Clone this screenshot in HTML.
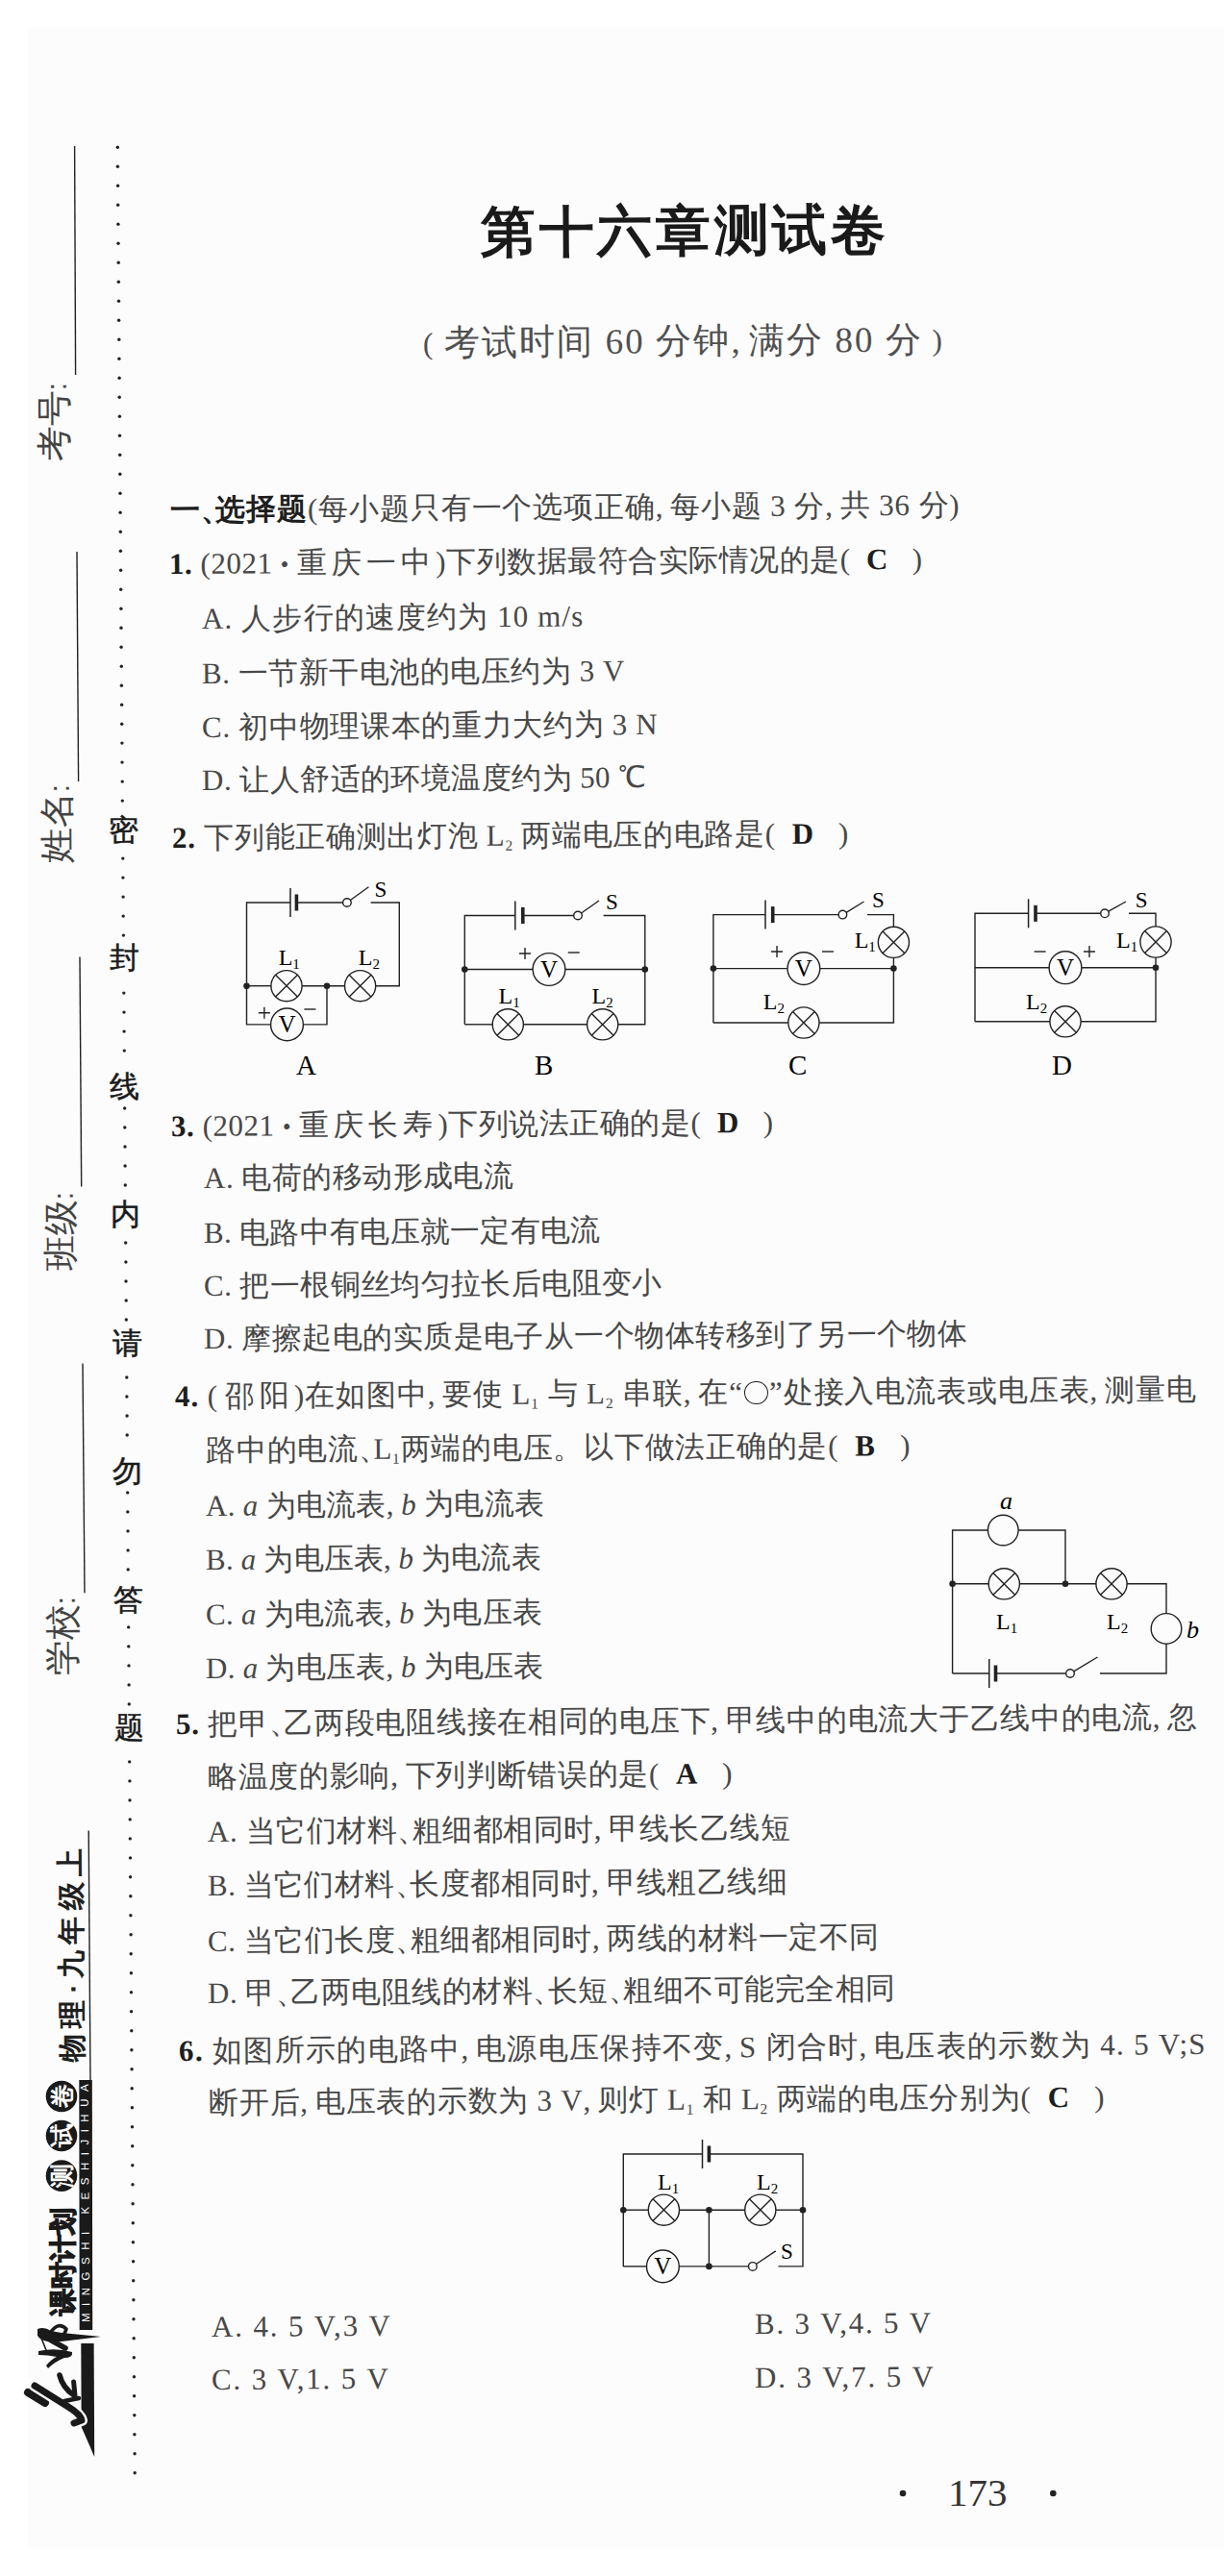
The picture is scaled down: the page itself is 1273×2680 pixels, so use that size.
<!DOCTYPE html><html><head><meta charset="utf-8"><style>
html,body{margin:0;padding:0}
body{width:1273px;height:2680px;position:relative;overflow:hidden;background:#fff;font-family:"Liberation Serif",serif;color:#1e1e1e}
.pg{position:absolute;left:29px;top:28px;width:1244px;height:2624px;background:#fcfcfc}
.t{position:absolute;white-space:nowrap;line-height:1;transform-origin:0 50%;transform:rotate(-0.38deg);color:#484848}
#title{color:#1a1a1a}
#sub{color:#505050}
b{color:#1e1e1e}
.h{display:inline-block;width:.5em}
.sb{font-size:.5em;position:relative;top:.3em}
b{font-weight:700}
i{font-style:italic}
svg{position:absolute;left:0;top:0}
.rt{position:absolute;text-align:center;white-space:nowrap;transform:rotate(-90.4deg)}
.kai{letter-spacing:5px}
.pp{font-size:.85em;position:relative;top:-.03em}
.bu{font-size:.8em;position:relative;top:-.05em}
.ci{display:inline-block;width:.78em;height:.78em;border:1.6px solid #1e1e1e;border-radius:50%;box-sizing:border-box;vertical-align:-.08em;margin:0 .05em}
.seal{position:absolute;width:32px;height:32px;line-height:32px;text-align:center;font-size:31px;font-family:"Liberation Sans",sans-serif;font-weight:400;-webkit-text-stroke:0.5px #1a1a1a;color:#1a1a1a}
.fld{color:#444;position:absolute;width:120px;height:40px;line-height:40px;text-align:center;font-size:37px;transform:rotate(-90.4deg);font-family:'Liberation Sans',sans-serif}
.co{display:inline-block;width:.3em;text-align:left;font-size:.8em}
.pn{position:absolute;left:986px;top:2573px;font-size:41px;line-height:41px;font-weight:400;color:#333}

</style></head><body><div class="pg"></div>
<svg width="1273" height="2680" viewBox="0 0 1273 2680"><path d="M302.0 924.0V954.0" stroke="#222" stroke-width="1.5"/>
<path d="M308.4 930.5V947.5" stroke="#222" stroke-width="3.6"/>
<polyline points="256.5,1025.7 256.5,939.0 302.0,939.0" fill="none" stroke="#222" stroke-width="1.4"/>
<polyline points="308.4,939.0 356.6,939.0" fill="none" stroke="#222" stroke-width="1.4"/>
<circle cx="360.9" cy="939.0" r="4.3" fill="none" stroke="#222" stroke-width="1.4"/>
<path d="M364.4 936.5L383.4 922.8" stroke="#222" stroke-width="1.4"/>
<polyline points="385.6,939.0 415.3,939.0 415.3,1025.7 390.0,1025.7" fill="none" stroke="#222" stroke-width="1.4"/>
<polyline points="256.5,1025.7 282.6,1025.7" fill="none" stroke="#222" stroke-width="1.4"/>
<polyline points="313.4,1025.7 359.2,1025.7" fill="none" stroke="#222" stroke-width="1.4"/>
<circle cx="256.5" cy="1025.7" r="3.3" fill="#222"/>
<circle cx="340.0" cy="1025.7" r="3.3" fill="#222"/>
<polyline points="256.5,1025.7 256.5,1065.9 283.1,1065.9" fill="none" stroke="#222" stroke-width="1.4"/>
<polyline points="313.9,1065.9 340.0,1065.9 340.0,1025.7" fill="none" stroke="#222" stroke-width="1.4"/>
<path d="M268.9 1053.7H280.9M274.9 1047.7V1059.7" stroke="#222" stroke-width="1.4"/>
<path d="M316.4 1050.0H328.4" stroke="#222" stroke-width="1.4"/>
<text x="289.7" y="1003.7" font-size="24" font-family="Liberation Serif">L<tspan font-size="15" dy="4">1</tspan></text>
<text x="372.8" y="1003.7" font-size="24" font-family="Liberation Serif">L<tspan font-size="15" dy="4">2</tspan></text>
<text x="389.5" y="932.6" font-size="23" font-family="Liberation Serif" >S</text>
<text x="308.0" y="1118.0" font-size="29" font-family="Liberation Serif" >A</text>
<path d="M535.8 937.5V967.5" stroke="#222" stroke-width="1.5"/>
<path d="M543.8 944.0V961.0" stroke="#222" stroke-width="3.6"/>
<polyline points="483.3,1065.8 483.3,952.5 535.8,952.5" fill="none" stroke="#222" stroke-width="1.4"/>
<polyline points="543.8,952.5 596.7,952.5" fill="none" stroke="#222" stroke-width="1.4"/>
<circle cx="601.0" cy="952.5" r="4.3" fill="none" stroke="#222" stroke-width="1.4"/>
<path d="M604.5 950.0L623.0 937.0" stroke="#222" stroke-width="1.4"/>
<polyline points="627.6,952.5 670.8,952.5 670.8,1065.8 642.1,1065.8" fill="none" stroke="#222" stroke-width="1.4"/>
<polyline points="483.3,1008.5 555.6,1008.5" fill="none" stroke="#222" stroke-width="1.4"/>
<polyline points="586.4,1008.5 670.8,1008.5" fill="none" stroke="#222" stroke-width="1.4"/>
<circle cx="483.3" cy="1008.5" r="3.3" fill="#222"/>
<circle cx="670.8" cy="1008.5" r="3.3" fill="#222"/>
<polyline points="483.3,1065.8 512.9,1065.8" fill="none" stroke="#222" stroke-width="1.4"/>
<polyline points="543.7,1065.8 611.3,1065.8" fill="none" stroke="#222" stroke-width="1.4"/>
<path d="M540.0 992.0H552.0M546.0 986.0V998.0" stroke="#222" stroke-width="1.4"/>
<path d="M590.7 991.0H602.7" stroke="#222" stroke-width="1.4"/>
<text x="518.5" y="1044.0" font-size="24" font-family="Liberation Serif">L<tspan font-size="15" dy="4">1</tspan></text>
<text x="615.5" y="1044.0" font-size="24" font-family="Liberation Serif">L<tspan font-size="15" dy="4">2</tspan></text>
<text x="630.0" y="946.0" font-size="23" font-family="Liberation Serif" >S</text>
<text x="556.0" y="1118.0" font-size="29" font-family="Liberation Serif" >B</text>
<path d="M796.0 936.6V966.6" stroke="#222" stroke-width="1.5"/>
<path d="M803.7 943.1V960.1" stroke="#222" stroke-width="3.6"/>
<polyline points="741.9,1064.0 741.9,951.6 796.0,951.6" fill="none" stroke="#222" stroke-width="1.4"/>
<polyline points="803.7,951.6 872.1,951.6" fill="none" stroke="#222" stroke-width="1.4"/>
<circle cx="876.4" cy="951.6" r="4.3" fill="none" stroke="#222" stroke-width="1.4"/>
<path d="M880.1 949.3L898.5 938.0" stroke="#222" stroke-width="1.4"/>
<polyline points="902.0,951.6 929.4,951.6 929.4,964.9" fill="none" stroke="#222" stroke-width="1.4"/>
<polyline points="929.4,995.7 929.4,1064.0 851.3,1064.0" fill="none" stroke="#222" stroke-width="1.4"/>
<polyline points="741.9,1007.6 820.5,1007.6" fill="none" stroke="#222" stroke-width="1.4"/>
<polyline points="851.3,1007.6 929.4,1007.6" fill="none" stroke="#222" stroke-width="1.4"/>
<circle cx="741.9" cy="1007.6" r="3.3" fill="#222"/>
<circle cx="929.4" cy="1007.6" r="3.3" fill="#222"/>
<polyline points="741.9,1064.0 820.5,1064.0" fill="none" stroke="#222" stroke-width="1.4"/>
<path d="M802.0 990.0H814.0M808.0 984.0V996.0" stroke="#222" stroke-width="1.4"/>
<path d="M855.0 990.0H867.0" stroke="#222" stroke-width="1.4"/>
<text x="888.7" y="986.0" font-size="24" font-family="Liberation Serif">L<tspan font-size="15" dy="4">1</tspan></text>
<text x="793.8" y="1050.0" font-size="24" font-family="Liberation Serif">L<tspan font-size="15" dy="4">2</tspan></text>
<text x="907.0" y="943.6" font-size="23" font-family="Liberation Serif" >S</text>
<text x="820.0" y="1118.0" font-size="29" font-family="Liberation Serif" >C</text>
<path d="M1069.6 935.3V965.3" stroke="#222" stroke-width="1.5"/>
<path d="M1077.0 941.8V958.8" stroke="#222" stroke-width="3.6"/>
<polyline points="1014.0,1062.8 1014.0,950.3 1069.6,950.3" fill="none" stroke="#222" stroke-width="1.4"/>
<polyline points="1077.0,950.3 1144.7,950.3" fill="none" stroke="#222" stroke-width="1.4"/>
<circle cx="1149.0" cy="950.3" r="4.3" fill="none" stroke="#222" stroke-width="1.4"/>
<path d="M1152.8 948.2L1171.0 938.0" stroke="#222" stroke-width="1.4"/>
<polyline points="1174.0,950.3 1202.0,950.3 1202.0,964.6" fill="none" stroke="#222" stroke-width="1.4"/>
<polyline points="1202.0,995.4 1202.0,1062.8 1123.4,1062.8" fill="none" stroke="#222" stroke-width="1.4"/>
<polyline points="1014.0,1006.7 1092.6,1006.7" fill="none" stroke="#222" stroke-width="1.4"/>
<polyline points="1123.4,1006.7 1202.0,1006.7" fill="none" stroke="#222" stroke-width="1.4"/>
<circle cx="1202.0" cy="1006.7" r="3.3" fill="#222"/>
<polyline points="1014.0,1062.8 1092.6,1062.8" fill="none" stroke="#222" stroke-width="1.4"/>
<path d="M1075.6 990.0H1087.6" stroke="#222" stroke-width="1.4"/>
<path d="M1127.0 990.0H1139.0M1133.0 984.0V996.0" stroke="#222" stroke-width="1.4"/>
<text x="1161.0" y="986.0" font-size="24" font-family="Liberation Serif">L<tspan font-size="15" dy="4">1</tspan></text>
<text x="1067.0" y="1050.0" font-size="24" font-family="Liberation Serif">L<tspan font-size="15" dy="4">2</tspan></text>
<text x="1180.8" y="944.0" font-size="23" font-family="Liberation Serif" >S</text>
<text x="1094.0" y="1118.0" font-size="29" font-family="Liberation Serif" >D</text>
<polyline points="990.6,1741.0 990.6,1592.0 1027.9,1592.0" fill="none" stroke="#222" stroke-width="1.4"/>
<polyline points="1058.7,1592.0 1108.0,1592.0 1108.0,1647.8" fill="none" stroke="#222" stroke-width="1.4"/>
<polyline points="990.6,1647.8 1028.9,1647.8" fill="none" stroke="#222" stroke-width="1.4"/>
<polyline points="1059.7,1647.8 1140.6,1647.8" fill="none" stroke="#222" stroke-width="1.4"/>
<circle cx="990.6" cy="1647.8" r="3.3" fill="#222"/>
<circle cx="1108.0" cy="1647.8" r="3.3" fill="#222"/>
<polyline points="1171.4,1647.8 1213.0,1647.8 1213.0,1679.0" fill="none" stroke="#222" stroke-width="1.4"/>
<polyline points="1213.0,1709.8 1213.0,1741.0 1144.0,1741.0" fill="none" stroke="#222" stroke-width="1.4"/>
<polyline points="990.6,1741.0 1028.8,1741.0" fill="none" stroke="#222" stroke-width="1.4"/>
<path d="M1028.8 1726.0V1756.0" stroke="#222" stroke-width="1.5"/>
<path d="M1035.5 1732.5V1749.5" stroke="#222" stroke-width="3.6"/>
<polyline points="1035.5,1741.0 1108.7,1741.0" fill="none" stroke="#222" stroke-width="1.4"/>
<circle cx="1113.0" cy="1741.0" r="4.3" fill="none" stroke="#222" stroke-width="1.4"/>
<path d="M1116.7 1738.8L1141.5 1724.0" stroke="#222" stroke-width="1.4"/>
<text x="1040.0" y="1570.0" font-size="26" font-family="Liberation Serif" font-style="italic">a</text>
<text x="1036.0" y="1695.0" font-size="24" font-family="Liberation Serif">L<tspan font-size="15" dy="4">1</tspan></text>
<text x="1151.0" y="1695.0" font-size="24" font-family="Liberation Serif">L<tspan font-size="15" dy="4">2</tspan></text>
<text x="1234.0" y="1704.0" font-size="26" font-family="Liberation Serif" font-style="italic">b</text>
<polyline points="648.3,2357.9 648.3,2241.0 730.5,2241.0" fill="none" stroke="#222" stroke-width="1.4"/>
<path d="M730.5 2226.0V2256.0" stroke="#222" stroke-width="1.5"/>
<path d="M737.4 2232.5V2249.5" stroke="#222" stroke-width="3.6"/>
<polyline points="737.4,2241.0 835.0,2241.0 835.0,2357.9 809.4,2357.9" fill="none" stroke="#222" stroke-width="1.4"/>
<polyline points="648.3,2299.2 675.0,2299.2" fill="none" stroke="#222" stroke-width="1.4"/>
<polyline points="705.8,2299.2 775.4,2299.2" fill="none" stroke="#222" stroke-width="1.4"/>
<polyline points="806.2,2299.2 835.0,2299.2" fill="none" stroke="#222" stroke-width="1.4"/>
<circle cx="648.3" cy="2299.2" r="3.3" fill="#222"/>
<circle cx="737.4" cy="2299.2" r="3.3" fill="#222"/>
<circle cx="835.0" cy="2299.2" r="3.3" fill="#222"/>
<polyline points="737.4,2299.2 737.4,2357.9" fill="none" stroke="#222" stroke-width="1.4"/>
<polyline points="648.3,2357.9 674.0,2357.9" fill="none" stroke="#222" stroke-width="1.4"/>
<polyline points="704.8,2357.9 778.5,2357.9" fill="none" stroke="#222" stroke-width="1.4"/>
<circle cx="737.4" cy="2357.9" r="3.3" fill="#222"/>
<circle cx="782.8" cy="2357.9" r="4.3" fill="none" stroke="#222" stroke-width="1.4"/>
<path d="M786.4 2355.5L806.8 2341.9" stroke="#222" stroke-width="1.4"/>
<text x="684.0" y="2278.0" font-size="24" font-family="Liberation Serif">L<tspan font-size="15" dy="4">1</tspan></text>
<text x="787.0" y="2278.0" font-size="24" font-family="Liberation Serif">L<tspan font-size="15" dy="4">2</tspan></text>
<text x="812.0" y="2350.0" font-size="23" font-family="Liberation Serif" >S</text>
<polyline points="77.6,152.0 78.6,390.0" fill="none" stroke="#222" stroke-width="1.4"/>
<polyline points="80.0,574.0 81.6,813.0" fill="none" stroke="#222" stroke-width="1.4"/>
<polyline points="83.0,995.6 84.7,1234.5" fill="none" stroke="#222" stroke-width="1.4"/>
<polyline points="86.0,1418.4 88.0,1657.3" fill="none" stroke="#222" stroke-width="1.4"/>
<circle cx="122.3" cy="153.3" r="1.7" fill="#222"/>
<circle cx="122.4" cy="173.3" r="1.7" fill="#222"/>
<circle cx="122.6" cy="193.3" r="1.7" fill="#222"/>
<circle cx="122.7" cy="213.3" r="1.7" fill="#222"/>
<circle cx="122.9" cy="233.3" r="1.7" fill="#222"/>
<circle cx="123.0" cy="253.3" r="1.7" fill="#222"/>
<circle cx="123.2" cy="273.3" r="1.7" fill="#222"/>
<circle cx="123.3" cy="293.3" r="1.7" fill="#222"/>
<circle cx="123.5" cy="313.3" r="1.7" fill="#222"/>
<circle cx="123.6" cy="333.3" r="1.7" fill="#222"/>
<circle cx="123.8" cy="353.3" r="1.7" fill="#222"/>
<circle cx="123.9" cy="373.2" r="1.7" fill="#222"/>
<circle cx="124.1" cy="393.2" r="1.7" fill="#222"/>
<circle cx="124.2" cy="413.2" r="1.7" fill="#222"/>
<circle cx="124.4" cy="433.2" r="1.7" fill="#222"/>
<circle cx="124.5" cy="453.2" r="1.7" fill="#222"/>
<circle cx="124.7" cy="473.2" r="1.7" fill="#222"/>
<circle cx="124.8" cy="493.2" r="1.7" fill="#222"/>
<circle cx="125.0" cy="513.2" r="1.7" fill="#222"/>
<circle cx="125.1" cy="533.2" r="1.7" fill="#222"/>
<circle cx="125.3" cy="553.2" r="1.7" fill="#222"/>
<circle cx="125.4" cy="573.2" r="1.7" fill="#222"/>
<circle cx="125.6" cy="593.2" r="1.7" fill="#222"/>
<circle cx="125.7" cy="613.2" r="1.7" fill="#222"/>
<circle cx="125.9" cy="633.2" r="1.7" fill="#222"/>
<circle cx="126.0" cy="653.2" r="1.7" fill="#222"/>
<circle cx="126.1" cy="673.2" r="1.7" fill="#222"/>
<circle cx="126.3" cy="693.2" r="1.7" fill="#222"/>
<circle cx="126.4" cy="713.2" r="1.7" fill="#222"/>
<circle cx="126.6" cy="733.2" r="1.7" fill="#222"/>
<circle cx="126.7" cy="753.2" r="1.7" fill="#222"/>
<circle cx="126.9" cy="773.1" r="1.7" fill="#222"/>
<circle cx="127.0" cy="793.1" r="1.7" fill="#222"/>
<circle cx="127.2" cy="813.1" r="1.7" fill="#222"/>
<circle cx="127.3" cy="833.1" r="1.7" fill="#222"/>
<circle cx="127.8" cy="893.1" r="1.7" fill="#222"/>
<circle cx="127.9" cy="913.1" r="1.7" fill="#222"/>
<circle cx="128.1" cy="933.1" r="1.7" fill="#222"/>
<circle cx="128.2" cy="953.1" r="1.7" fill="#222"/>
<circle cx="128.4" cy="973.1" r="1.7" fill="#222"/>
<circle cx="128.8" cy="1033.1" r="1.7" fill="#222"/>
<circle cx="129.0" cy="1053.1" r="1.7" fill="#222"/>
<circle cx="129.1" cy="1073.1" r="1.7" fill="#222"/>
<circle cx="129.3" cy="1093.1" r="1.7" fill="#222"/>
<circle cx="129.7" cy="1153.0" r="1.7" fill="#222"/>
<circle cx="129.8" cy="1173.0" r="1.7" fill="#222"/>
<circle cx="130.0" cy="1193.0" r="1.7" fill="#222"/>
<circle cx="130.1" cy="1213.0" r="1.7" fill="#222"/>
<circle cx="130.3" cy="1233.0" r="1.7" fill="#222"/>
<circle cx="130.7" cy="1293.0" r="1.7" fill="#222"/>
<circle cx="130.9" cy="1313.0" r="1.7" fill="#222"/>
<circle cx="131.0" cy="1333.0" r="1.7" fill="#222"/>
<circle cx="131.2" cy="1353.0" r="1.7" fill="#222"/>
<circle cx="131.3" cy="1373.0" r="1.7" fill="#222"/>
<circle cx="131.8" cy="1433.0" r="1.7" fill="#222"/>
<circle cx="131.9" cy="1453.0" r="1.7" fill="#222"/>
<circle cx="132.1" cy="1473.0" r="1.7" fill="#222"/>
<circle cx="132.2" cy="1493.0" r="1.7" fill="#222"/>
<circle cx="132.7" cy="1552.9" r="1.7" fill="#222"/>
<circle cx="132.8" cy="1572.9" r="1.7" fill="#222"/>
<circle cx="133.0" cy="1592.9" r="1.7" fill="#222"/>
<circle cx="133.1" cy="1612.9" r="1.7" fill="#222"/>
<circle cx="133.2" cy="1632.9" r="1.7" fill="#222"/>
<circle cx="133.7" cy="1692.9" r="1.7" fill="#222"/>
<circle cx="133.8" cy="1712.9" r="1.7" fill="#222"/>
<circle cx="134.0" cy="1732.9" r="1.7" fill="#222"/>
<circle cx="134.1" cy="1752.9" r="1.7" fill="#222"/>
<circle cx="134.3" cy="1772.9" r="1.7" fill="#222"/>
<circle cx="134.7" cy="1832.9" r="1.7" fill="#222"/>
<circle cx="134.9" cy="1852.9" r="1.7" fill="#222"/>
<circle cx="135.0" cy="1872.9" r="1.7" fill="#222"/>
<circle cx="135.2" cy="1892.9" r="1.7" fill="#222"/>
<circle cx="135.3" cy="1912.9" r="1.7" fill="#222"/>
<circle cx="135.5" cy="1932.9" r="1.7" fill="#222"/>
<circle cx="135.6" cy="1952.8" r="1.7" fill="#222"/>
<circle cx="135.8" cy="1972.8" r="1.7" fill="#222"/>
<circle cx="135.9" cy="1992.8" r="1.7" fill="#222"/>
<circle cx="136.1" cy="2012.8" r="1.7" fill="#222"/>
<circle cx="136.2" cy="2032.8" r="1.7" fill="#222"/>
<circle cx="136.4" cy="2052.8" r="1.7" fill="#222"/>
<circle cx="136.5" cy="2072.8" r="1.7" fill="#222"/>
<circle cx="136.6" cy="2092.8" r="1.7" fill="#222"/>
<circle cx="136.8" cy="2112.8" r="1.7" fill="#222"/>
<circle cx="136.9" cy="2132.8" r="1.7" fill="#222"/>
<circle cx="137.1" cy="2152.8" r="1.7" fill="#222"/>
<circle cx="137.2" cy="2172.8" r="1.7" fill="#222"/>
<circle cx="137.4" cy="2192.8" r="1.7" fill="#222"/>
<circle cx="137.5" cy="2212.8" r="1.7" fill="#222"/>
<circle cx="137.7" cy="2232.8" r="1.7" fill="#222"/>
<circle cx="137.8" cy="2252.8" r="1.7" fill="#222"/>
<circle cx="138.0" cy="2272.8" r="1.7" fill="#222"/>
<circle cx="138.1" cy="2292.8" r="1.7" fill="#222"/>
<circle cx="138.3" cy="2312.8" r="1.7" fill="#222"/>
<circle cx="138.4" cy="2332.8" r="1.7" fill="#222"/>
<circle cx="138.6" cy="2352.7" r="1.7" fill="#222"/>
<circle cx="138.7" cy="2372.7" r="1.7" fill="#222"/>
<circle cx="138.9" cy="2392.7" r="1.7" fill="#222"/>
<circle cx="139.0" cy="2412.7" r="1.7" fill="#222"/>
<circle cx="139.2" cy="2432.7" r="1.7" fill="#222"/>
<circle cx="139.3" cy="2452.7" r="1.7" fill="#222"/>
<circle cx="139.5" cy="2472.7" r="1.7" fill="#222"/>
<circle cx="139.6" cy="2492.7" r="1.7" fill="#222"/>
<circle cx="139.8" cy="2512.7" r="1.7" fill="#222"/>
<circle cx="139.9" cy="2532.7" r="1.7" fill="#222"/>
<circle cx="140.1" cy="2552.7" r="1.7" fill="#222"/>
<circle cx="140.2" cy="2572.7" r="1.7" fill="#222"/>
<circle cx="939.0" cy="2594.0" r="3.3" fill="#222"/>
<circle cx="1095.3" cy="2594.0" r="3.3" fill="#222"/>
<polyline points="92.2,1904.4 94.0,2164.0" fill="none" stroke="#222" stroke-width="1.4"/>
<path d="M82.3 2164H95.8L96.2 2424H82.7Z" fill="#1a1a1a"/>
<path d="M84.3 2438H97.6L98.2 2556L84.7 2525Z" fill="#1a1a1a"/>
<circle cx="64" cy="2181.0" r="16.3" fill="#1a1a1a"/>
<circle cx="64" cy="2222.0" r="16.3" fill="#1a1a1a"/>
<circle cx="64" cy="2263.6" r="16.3" fill="#1a1a1a"/>
<path d="M39 2423 Q46 2420 53 2425 L64 2427 L105 2431 L64 2436 L50 2436 Q42 2435 39 2430Z" fill="#1a1a1a"/>
<path d="M53 2426 Q61 2415 69 2423 Q66 2434 56 2432" fill="none" stroke="#1a1a1a" stroke-width="3.6" stroke-linecap="round" stroke-linejoin="round"/>
<path d="M42 2428 Q55 2436 68 2443" fill="none" stroke="#1a1a1a" stroke-width="5.6" stroke-linecap="round" stroke-linejoin="round"/>
<path d="M42.8 2432 L48 2445" fill="none" stroke="#1a1a1a" stroke-width="1.6" stroke-linecap="round" stroke-linejoin="round"/>
<path d="M40 2446 Q58 2442 75 2447 Q76 2453 67 2453 Q57 2457 50 2464 L48 2461 Q54 2454 59 2452 Q50 2450 40 2450Z" fill="#1a1a1a"/>
<path d="M29 2489 L47 2500" fill="none" stroke="#fcfcfc" stroke-width="13.0" stroke-linecap="round" stroke-linejoin="round"/>
<path d="M29 2489 L47 2500" fill="none" stroke="#1a1a1a" stroke-width="8.0" stroke-linecap="round" stroke-linejoin="round"/>
<path d="M36 2482 Q55 2494 71 2504 Q84 2512 85 2518 L77 2521" fill="none" stroke="#fcfcfc" stroke-width="12.0" stroke-linecap="round" stroke-linejoin="round"/>
<path d="M36 2482 Q55 2494 71 2504 Q84 2512 85 2518 L77 2521" fill="none" stroke="#1a1a1a" stroke-width="7.0" stroke-linecap="round" stroke-linejoin="round"/>
<path d="M62 2471 Q65 2484 77 2492" fill="none" stroke="#1a1a1a" stroke-width="5.6" stroke-linecap="round" stroke-linejoin="round"/>
<path d="M76.6 2478 L78 2492" fill="none" stroke="#1a1a1a" stroke-width="5.0" stroke-linecap="round" stroke-linejoin="round"/>
<path d="M67 2498 L82 2495" fill="none" stroke="#1a1a1a" stroke-width="4.6" stroke-linecap="round" stroke-linejoin="round"/>
<circle cx="298.0" cy="1025.7" r="16.1" fill="#fcfcfc" stroke="#222" stroke-width="1.4"/>
<path d="M286.6 1014.3L309.4 1037.1M286.6 1037.1L309.4 1014.3" stroke="#222" stroke-width="1.4"/>
<circle cx="374.6" cy="1025.7" r="16.1" fill="#fcfcfc" stroke="#222" stroke-width="1.4"/>
<path d="M363.2 1014.3L386.0 1037.1M363.2 1037.1L386.0 1014.3" stroke="#222" stroke-width="1.4"/>
<circle cx="298.5" cy="1065.9" r="16.9" fill="#fcfcfc" stroke="#222" stroke-width="1.4"/>
<text x="298.5" y="1074.4" font-size="25" text-anchor="middle" font-family="Liberation Serif">V</text>
<circle cx="571.0" cy="1008.5" r="16.9" fill="#fcfcfc" stroke="#222" stroke-width="1.4"/>
<text x="571.0" y="1017.0" font-size="25" text-anchor="middle" font-family="Liberation Serif">V</text>
<circle cx="528.3" cy="1065.8" r="16.1" fill="#fcfcfc" stroke="#222" stroke-width="1.4"/>
<path d="M516.9 1054.4L539.7 1077.2M516.9 1077.2L539.7 1054.4" stroke="#222" stroke-width="1.4"/>
<circle cx="626.7" cy="1065.8" r="16.1" fill="#fcfcfc" stroke="#222" stroke-width="1.4"/>
<path d="M615.3 1054.4L638.1 1077.2M615.3 1077.2L638.1 1054.4" stroke="#222" stroke-width="1.4"/>
<circle cx="929.4" cy="980.3" r="16.1" fill="#fcfcfc" stroke="#222" stroke-width="1.4"/>
<path d="M918.0 968.9L940.8 991.7M918.0 991.7L940.8 968.9" stroke="#222" stroke-width="1.4"/>
<circle cx="835.9" cy="1007.6" r="16.9" fill="#fcfcfc" stroke="#222" stroke-width="1.4"/>
<text x="835.9" y="1016.1" font-size="25" text-anchor="middle" font-family="Liberation Serif">V</text>
<circle cx="835.9" cy="1064.0" r="16.1" fill="#fcfcfc" stroke="#222" stroke-width="1.4"/>
<path d="M824.5 1052.6L847.3 1075.4M824.5 1075.4L847.3 1052.6" stroke="#222" stroke-width="1.4"/>
<circle cx="1202.0" cy="980.0" r="16.1" fill="#fcfcfc" stroke="#222" stroke-width="1.4"/>
<path d="M1190.6 968.6L1213.4 991.4M1190.6 991.4L1213.4 968.6" stroke="#222" stroke-width="1.4"/>
<circle cx="1108.0" cy="1006.7" r="16.9" fill="#fcfcfc" stroke="#222" stroke-width="1.4"/>
<text x="1108.0" y="1015.2" font-size="25" text-anchor="middle" font-family="Liberation Serif">V</text>
<circle cx="1108.0" cy="1062.8" r="16.1" fill="#fcfcfc" stroke="#222" stroke-width="1.4"/>
<path d="M1096.6 1051.4L1119.4 1074.2M1096.6 1074.2L1119.4 1051.4" stroke="#222" stroke-width="1.4"/>
<circle cx="1043.3" cy="1592.0" r="15.8" fill="#fcfcfc" stroke="#222" stroke-width="1.4"/>
<circle cx="1044.3" cy="1647.8" r="16.1" fill="#fcfcfc" stroke="#222" stroke-width="1.4"/>
<path d="M1032.9 1636.4L1055.7 1659.2M1032.9 1659.2L1055.7 1636.4" stroke="#222" stroke-width="1.4"/>
<circle cx="1156.0" cy="1647.8" r="16.1" fill="#fcfcfc" stroke="#222" stroke-width="1.4"/>
<path d="M1144.6 1636.4L1167.4 1659.2M1144.6 1659.2L1167.4 1636.4" stroke="#222" stroke-width="1.4"/>
<circle cx="1213.0" cy="1694.4" r="15.8" fill="#fcfcfc" stroke="#222" stroke-width="1.4"/>
<circle cx="690.4" cy="2299.2" r="16.1" fill="#fcfcfc" stroke="#222" stroke-width="1.4"/>
<path d="M679.0 2287.8L701.8 2310.6M679.0 2310.6L701.8 2287.8" stroke="#222" stroke-width="1.4"/>
<circle cx="790.8" cy="2299.2" r="16.1" fill="#fcfcfc" stroke="#222" stroke-width="1.4"/>
<path d="M779.4 2287.8L802.2 2310.6M779.4 2310.6L802.2 2287.8" stroke="#222" stroke-width="1.4"/>
<circle cx="689.4" cy="2357.9" r="16.9" fill="#fcfcfc" stroke="#222" stroke-width="1.4"/>
<text x="689.4" y="2366.4" font-size="25" text-anchor="middle" font-family="Liberation Serif">V</text></svg>
<div class="t" id="title" style="left:499.8px;top:213.0px;font-size:57px;font-weight:700;width:421.0px;text-align:justify;text-align-last:justify">第十六章测试卷</div>
<div class="t" id="sub" style="left:439.6px;top:337.5px;font-size:37px;font-weight:400;letter-spacing:2.08px"><span class="pp">(</span>&thinsp;考试时间&nbsp;60&nbsp;分钟<span class="h">,</span>满分&nbsp;80&nbsp;分&thinsp;<span class="pp">)</span></div>
<div class="t" id="sec" style="left:177.0px;top:514.5px;font-size:31px;font-weight:400;letter-spacing:0.86px"><b>一<span class="h">、</span>选择题</b>(每小题只有一个选项正确<span class="h">,</span>每小题&nbsp;3&nbsp;分<span class="h">,</span>共&nbsp;36&nbsp;分)</div>
<div class="t" id="q1" style="left:176.0px;top:570.5px;font-size:31px;font-weight:400;letter-spacing:0.51px"><b>1.</b>&nbsp;(2021&nbsp;<span class="bu">•</span>&nbsp;<span class="kai">重庆一中</span>)下列数据最符合实际情况的是(&nbsp;&nbsp;<b>C</b>&nbsp;&nbsp;&nbsp;)</div>
<div class="t" id="q1a" style="left:209.8px;top:628.0px;font-size:31px;font-weight:400;letter-spacing:1.12px">A.&nbsp;人步行的速度约为&nbsp;10&nbsp;m/s</div>
<div class="t" id="q1b" style="left:210.0px;top:684.5px;font-size:31px;font-weight:400;letter-spacing:0.52px">B.&nbsp;一节新干电池的电压约为&nbsp;3&nbsp;V</div>
<div class="t" id="q1c" style="left:210.0px;top:741.0px;font-size:31px;font-weight:400;letter-spacing:0.67px">C.&nbsp;初中物理课本的重力大约为&nbsp;3&nbsp;N</div>
<div class="t" id="q1d" style="left:210.0px;top:796.0px;font-size:31px;font-weight:400;letter-spacing:0.43px">D.&nbsp;让人舒适的环境温度约为&nbsp;50&nbsp;℃</div>
<div class="t" id="q2" style="left:179.0px;top:855.5px;font-size:31px;font-weight:400;letter-spacing:0.69px"><b>2.</b>&nbsp;下列能正确测出灯泡&nbsp;L<span class="sb">2</span>&nbsp;两端电压的电路是(&nbsp;&nbsp;<b>D</b>&nbsp;&nbsp;&nbsp;)</div>
<div class="t" id="q3" style="left:178.4px;top:1156.0px;font-size:31px;font-weight:400;letter-spacing:0.53px"><b>3.</b>&nbsp;(2021&nbsp;<span class="bu">•</span>&nbsp;<span class="kai">重庆长寿</span>)下列说法正确的是(&nbsp;&nbsp;<b>D</b>&nbsp;&nbsp;&nbsp;)</div>
<div class="t" id="q3a" style="left:212.0px;top:1210.0px;font-size:31px;font-weight:400;letter-spacing:0.45px">A.&nbsp;电荷的移动形成电流</div>
<div class="t" id="q3b" style="left:212.0px;top:1266.5px;font-size:31px;font-weight:400;letter-spacing:0.29px">B.&nbsp;电路中有电压就一定有电流</div>
<div class="t" id="q3c" style="left:212.0px;top:1322.0px;font-size:31px;font-weight:400;letter-spacing:0.38px">C.&nbsp;把一根铜丝均匀拉长后电阻变小</div>
<div class="t" id="q3d" style="left:212.0px;top:1377.0px;font-size:31px;font-weight:400;letter-spacing:0.46px">D.&nbsp;摩擦起电的实质是电子从一个物体转移到了另一个物体</div>
<div class="t" id="q4" style="left:182.0px;top:1436.5px;font-size:31px;font-weight:400;letter-spacing:0.87px"><b>4.</b>&nbsp;(&thinsp;<span class="kai">邵阳</span>)在如图中<span class="h">,</span>要使&nbsp;L<span class="sb">1</span>&nbsp;与&nbsp;L<span class="sb">2</span>&nbsp;串联<span class="h">,</span>在“<span class="ci"></span>”处接入电流表或电压表<span class="h">,</span>测量电</div>
<div class="t" id="q4l2" style="left:214.0px;top:1493.0px;font-size:31px;font-weight:400;letter-spacing:0.76px">路中的电流<span class="h">、</span>L<span class="sb">1</span>两端的电压。以下做法正确的是(&nbsp;&nbsp;<b>B</b>&nbsp;&nbsp;&nbsp;)</div>
<div class="t" id="q4a" style="left:214.0px;top:1550.5px;font-size:31px;font-weight:400;letter-spacing:0.28px">A.&nbsp;<i>a</i>&nbsp;为电流表<span class="h">,</span><i>b</i>&nbsp;为电流表</div>
<div class="t" id="q4b" style="left:214.0px;top:1606.5px;font-size:31px;font-weight:400;letter-spacing:0.17px">B.&nbsp;<i>a</i>&nbsp;为电压表<span class="h">,</span><i>b</i>&nbsp;为电流表</div>
<div class="t" id="q4c" style="left:214.0px;top:1663.5px;font-size:31px;font-weight:400;letter-spacing:0.26px">C.&nbsp;<i>a</i>&nbsp;为电流表<span class="h">,</span><i>b</i>&nbsp;为电压表</div>
<div class="t" id="q4d" style="left:214.0px;top:1719.5px;font-size:31px;font-weight:400;letter-spacing:0.25px">D.&nbsp;<i>a</i>&nbsp;为电压表<span class="h">,</span><i>b</i>&nbsp;为电压表</div>
<div class="t" id="q5" style="left:183.4px;top:1778.0px;font-size:31px;font-weight:400;letter-spacing:0.72px"><b>5.</b>&nbsp;把甲<span class="h">、</span>乙两段电阻线接在相同的电压下<span class="h">,</span>甲线中的电流大于乙线中的电流<span class="h">,</span>忽</div>
<div class="t" id="q5l2" style="left:216.4px;top:1833.0px;font-size:31px;font-weight:400;letter-spacing:0.68px">略温度的影响<span class="h">,</span>下列判断错误的是(&nbsp;&nbsp;<b>A</b>&nbsp;&nbsp;&nbsp;)</div>
<div class="t" id="q5a" style="left:216.4px;top:1890.0px;font-size:31px;font-weight:400;letter-spacing:0.52px">A.&nbsp;当它们材料<span class="h">、</span>粗细都相同时<span class="h">,</span>甲线长乙线短</div>
<div class="t" id="q5b" style="left:216.4px;top:1946.0px;font-size:31px;font-weight:400;letter-spacing:0.45px">B.&nbsp;当它们材料<span class="h">、</span>长度都相同时<span class="h">,</span>甲线粗乙线细</div>
<div class="t" id="q5c" style="left:216.4px;top:2003.5px;font-size:31px;font-weight:400;letter-spacing:0.51px">C.&nbsp;当它们长度<span class="h">、</span>粗细都相同时<span class="h">,</span>两线的材料一定不同</div>
<div class="t" id="q5d" style="left:216.0px;top:2058.0px;font-size:31px;font-weight:400;letter-spacing:0.48px">D.&nbsp;甲<span class="h">、</span>乙两电阻线的材料<span class="h">、</span>长短<span class="h">、</span>粗细不可能完全相同</div>
<div class="t" id="q6" style="left:186.4px;top:2117.5px;font-size:31px;font-weight:400;letter-spacing:1.31px"><b>6.</b>&nbsp;如图所示的电路中<span class="h">,</span>电源电压保持不变<span class="h">,</span>S&nbsp;闭合时<span class="h">,</span>电压表的示数为&nbsp;4.&nbsp;5&nbsp;V;S</div>
<div class="t" id="q6l2" style="left:217.0px;top:2172.0px;font-size:31px;font-weight:400;letter-spacing:0.75px">断开后<span class="h">,</span>电压表的示数为&nbsp;3&nbsp;V<span class="h">,</span>则灯&nbsp;L<span class="sb">1</span>&nbsp;和&nbsp;L<span class="sb">2</span>&nbsp;两端的电压分别为(&nbsp;&nbsp;<b>C</b>&nbsp;&nbsp;&nbsp;)</div>
<div class="t" id="q6a" style="left:220.4px;top:2405.0px;font-size:31px;font-weight:400;letter-spacing:1.83px">A.&nbsp;4.&nbsp;5&nbsp;V,3&nbsp;V</div>
<div class="t" id="q6b" style="left:785.0px;top:2402.0px;font-size:31px;font-weight:400;letter-spacing:1.73px">B.&nbsp;3&nbsp;V,4.&nbsp;5&nbsp;V</div>
<div class="t" id="q6c" style="left:220.4px;top:2460.0px;font-size:31px;font-weight:400;letter-spacing:1.80px">C.&nbsp;3&nbsp;V,1.&nbsp;5&nbsp;V</div>
<div class="t" id="q6d" style="left:785.0px;top:2458.0px;font-size:31px;font-weight:400;letter-spacing:1.83px">D.&nbsp;3&nbsp;V,7.&nbsp;5&nbsp;V</div>
<div class="seal" style="left:112.5px;top:847.5px">密</div>
<div class="seal" style="left:113.0px;top:980.5px">封</div>
<div class="seal" style="left:113.5px;top:1115.0px">线</div>
<div class="seal" style="left:114.5px;top:1248.0px">内</div>
<div class="seal" style="left:116.0px;top:1382.0px">请</div>
<div class="seal" style="left:116.5px;top:1514.6px">勿</div>
<div class="seal" style="left:117.5px;top:1649.0px">答</div>
<div class="seal" style="left:118.5px;top:1781.6px">题</div>
<div class="fld" style="left:-3.2px;top:418.8px">考号<span class="co">:</span></div>
<div class="fld" style="left:0.3px;top:837.0px">姓名<span class="co">:</span></div>
<div class="fld" style="left:3.5px;top:1260.5px">班级<span class="co">:</span></div>
<div class="fld" style="left:5.5px;top:1682.0px">学校<span class="co">:</span></div>
<div class="pn">173</div>
<div class="rt" style="left:-51.5px;top:2018.0px;width:250px;height:32px;line-height:32px;font-size:29.0px;-webkit-text-stroke:1.1px #1e1e1e;color:#1e1e1e;letter-spacing:6.4px;padding-left:6.4px;box-sizing:border-box;font-family:&quot;Liberation Sans&quot;,sans-serif">物理·九年级上</div>
<div class="rt" style="left:48.0px;top:2165.0px;width:32px;height:32px;line-height:32px;font-size:25.0px;color:#fff;font-weight:700;font-family:&quot;Liberation Sans&quot;,sans-serif">卷</div>
<div class="rt" style="left:48.0px;top:2206.0px;width:32px;height:32px;line-height:32px;font-size:25.0px;color:#fff;font-weight:700;font-family:&quot;Liberation Sans&quot;,sans-serif">试</div>
<div class="rt" style="left:48.0px;top:2247.6px;width:32px;height:32px;line-height:32px;font-size:25.0px;color:#fff;font-weight:700;font-family:&quot;Liberation Sans&quot;,sans-serif">测</div>
<div class="rt" style="left:10.0px;top:2338.0px;width:112px;height:30px;line-height:30px;font-size:28.0px;font-weight:700;-webkit-text-stroke:1.3px #1a1a1a;text-align:justify;text-align-last:justify;font-family:&quot;Liberation Sans&quot;,sans-serif">课时计划</div>
<div class="rt" style="left:-41.8px;top:2285.5px;width:262px;height:13px;line-height:13px;font-size:11.5px;color:#fff;font-weight:400;letter-spacing:7.5px;padding-left:7.5px;box-sizing:border-box;font-family:&quot;Liberation Sans&quot;,sans-serif">MINGSHI&nbsp;KESHIJIHUA</div>
</body></html>
